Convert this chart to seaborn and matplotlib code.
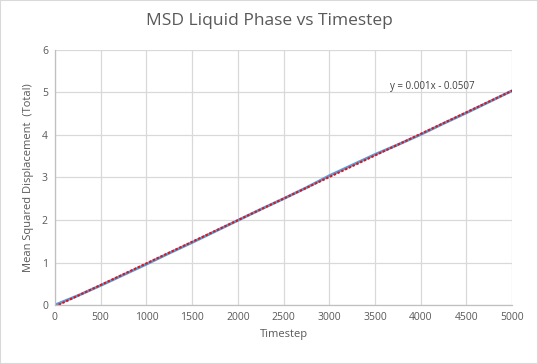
import numpy as np
import matplotlib
matplotlib.use("Agg")
import matplotlib.pyplot as plt
import seaborn as sns
import pandas as pd

timestep = [0, 250, 500, 750, 1000, 1250, 1500, 1750, 2000, 2250, 2500,
            2750, 3000, 3250, 3500, 3750, 4000, 4250, 4500, 4750, 5000]
msd = [0.0, 0.22, 0.46, 0.71, 0.96, 1.22, 1.47, 1.73, 1.99, 2.25, 2.50,
       2.76, 3.04, 3.29, 3.54, 3.77, 4.01, 4.27, 4.52, 4.78, 5.04]
trend_label = "y = 0.001x - 0.0507"

sns.set_theme(style="white")
plt.rcParams['font.family'] = ['Open Sans', 'DejaVu Sans']

df = pd.DataFrame({"Timestep": timestep, "MSD": msd})
fig = plt.figure(figsize=(5.38, 3.64), dpi=100)
ax = fig.add_axes([0.102, 0.162, 0.850, 0.701])

sns.lineplot(data=df, x="Timestep", y="MSD", ax=ax, color="#5b9bd5", linewidth=2.0)
xs = np.array([timestep[0], timestep[-1]], dtype=float)
slope, intercept = np.polyfit(timestep, msd, 1)
ax.plot(xs, slope * xs + intercept, color="#e0131b",
        linestyle=(0, (1.2, 0.8)), linewidth=1.5)

ax.set_xlim(0, 5000)
ax.set_ylim(0, 6)
ax.set_xticks(range(0, 5001, 500))
ax.set_yticks(range(0, 7))
ax.grid(True, color="#d9d9d9", linewidth=0.9)
for s in ["top", "right"]:
    ax.spines[s].set_visible(False)
for s in ["left", "bottom"]:
    ax.spines[s].set_color("#bfbfbf")
    ax.spines[s].set_linewidth(0.9)
ax.tick_params(axis="both", labelsize=7.5, colors="#595959", length=0, pad=5)
ax.set_xlabel("Timestep", fontsize=8, color="#595959", labelpad=4)
ax.set_ylabel("Mean Squared Displacement  (Total)", fontsize=8, color="#595959", labelpad=6)
ax.text(3660, 5.15, trend_label, fontsize=7, color="#404040", va="center", ha="left")
fig.suptitle("MSD Liquid Phase vs Timestep", fontsize=12.5, color="#595959", y=0.965)

fig.patches.append(matplotlib.patches.Rectangle((0, 0), 1, 1, transform=fig.transFigure,
                   fill=False, edgecolor="#d9d9d9", linewidth=1.5))
fig.savefig("out.png", dpi=100)
